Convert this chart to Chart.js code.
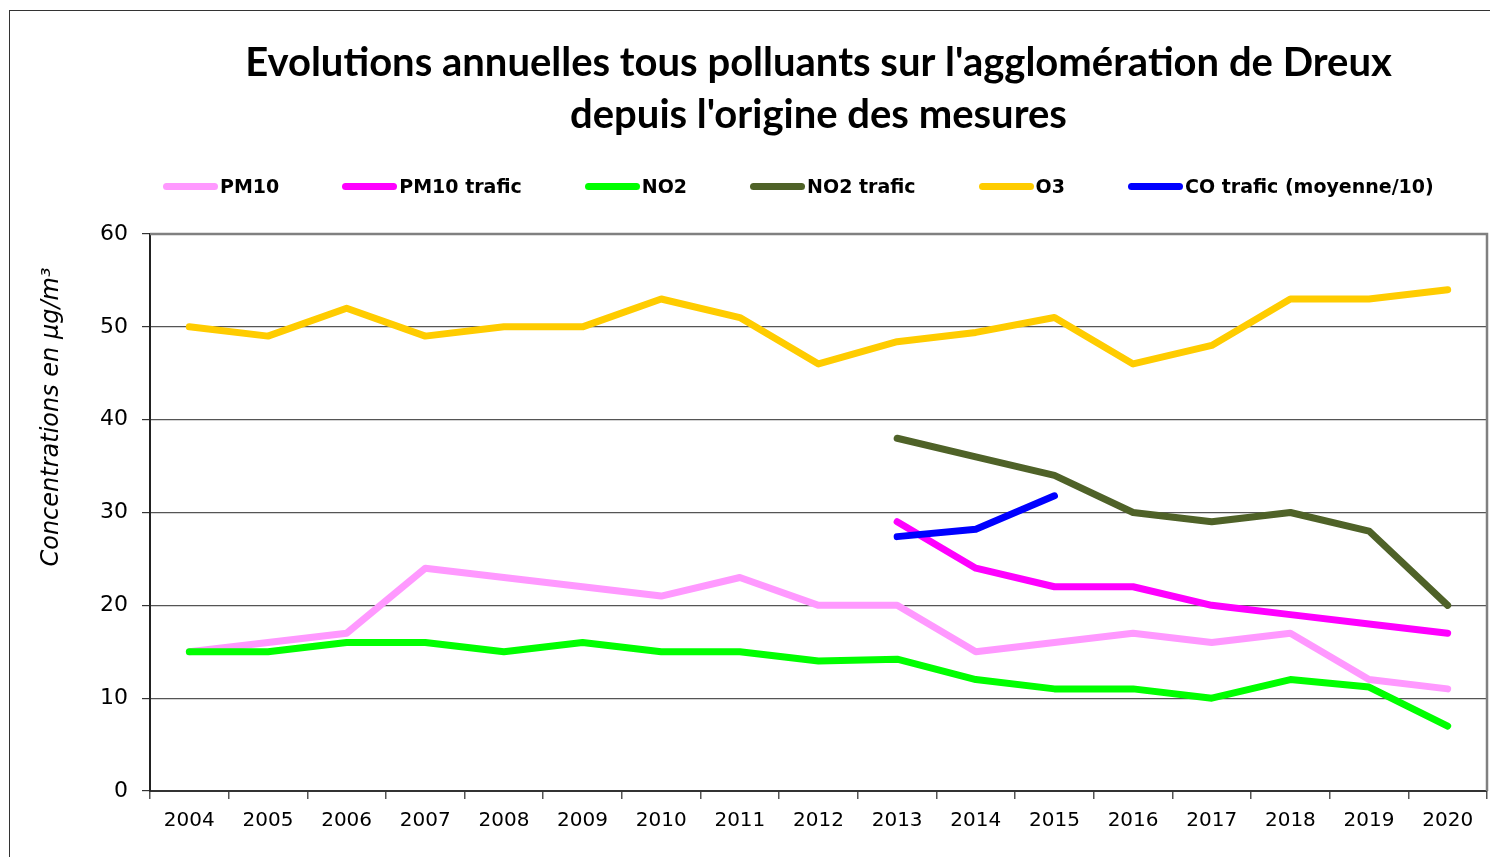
<!DOCTYPE html>
<html>
<head>
<meta charset="utf-8">
<script src="https://cdn.jsdelivr.net/npm/chart.js@4.4.1/dist/chart.umd.min.js"></script>
<style>
  html, body { margin: 0; padding: 0; background: #fff; overflow: hidden; }
  #wrap { position: relative; width: 1490px; height: 857px; }
  #frame { position: absolute; left: 9px; top: 10px; width: 1500px; height: 900px; border: 1.5px solid #333; box-sizing: border-box; pointer-events: none; }
  #c { position: absolute; left: 0; top: 0; }
  #legend { position: absolute; left: 163px; top: 176px; height: 20px; display: flex; align-items: center; gap: 63px;
            font-family: "DejaVu Sans", sans-serif; font-weight: bold; font-size: 19px; color: #000; white-space: nowrap; }
  .item { display: flex; align-items: center; gap: 2px; }
  .swatch { width: 55px; height: 7px; border-radius: 3.5px; display: inline-block; }
</style>
</head>
<body>
<div id="wrap">
  <canvas id="c" width="1490" height="857"></canvas>
  <div id="frame"></div>
  <div id="legend"></div>
</div>
<script>
// ---- data ----
const years = ['2004','2005','2006','2007','2008','2009','2010','2011','2012','2013','2014','2015','2016','2017','2018','2019','2020'];
const seriesNames = ['PM10', 'PM10 trafic', 'NO2', 'NO2 trafic', 'O3', 'CO trafic (moyenne/10)'];
const pm10       = [15, 16, 17, 24, 23, 22, 21, 23, 20, 20, 15, 16, 17, 16, 17, 12, 11];
const pm10Trafic = [null, null, null, null, null, null, null, null, null, 29, 24, 22, 22, 20, 19, 18, 17];
const no2        = [15, 15, 16, 16, 15, 16, 15, 15, 14, 14.2, 12, 11, 11, 10, 12, 11.2, 7];
const no2Trafic  = [null, null, null, null, null, null, null, null, null, 38, 36, 34, 30, 29, 30, 28, 20];
const o3         = [50, 49, 52, 49, 50, 50, 53, 51, 46, 48.4, 49.4, 51, 46, 48, 53, 53, 54];
const coTrafic   = [null, null, null, null, null, null, null, null, null, 27.4, 28.2, 31.8, null, null, null, null, null];
const yTicks = [0, 10, 20, 30, 40, 50, 60];
const titleLines = ["Evolutions annuelles tous polluants sur l'agglomération de Dreux", "depuis l'origine des mesures"];
const yTitle = 'Concentrations en μg/m³';

// ---- styles ----
const colors = ['#FF99FF', '#FF00FF', '#00FF00', '#4F6228', '#FFCC00', '#0000FF'];
const values = [pm10, pm10Trafic, no2, no2Trafic, o3, coTrafic];

const datasets = values.map((v, i) => ({
  label: seriesNames[i],
  data: v,
  borderColor: colors[i],
  backgroundColor: colors[i],
  borderWidth: 7,
  pointRadius: 0,
  pointHoverRadius: 0,
  tension: 0,
  fill: false,
  spanGaps: false,
  borderCapStyle: 'round',
  borderJoinStyle: 'round',
  order: values.length - i
}));

const frameBorder = {
  id: 'frameBorder',
  beforeDatasetsDraw(chart) {
    const {ctx, chartArea: a} = chart;
    ctx.save();
    ctx.strokeStyle = '#808080';
    ctx.lineWidth = 2.5;
    ctx.beginPath();
    ctx.moveTo(a.left, a.top);
    ctx.lineTo(a.right, a.top);
    ctx.lineTo(a.right, a.bottom);
    ctx.stroke();
    ctx.restore();
  }
};

const yTitlePlugin = {
  id: 'yTitlePlugin',
  afterDraw(chart) {
    const {ctx} = chart;
    ctx.save();
    ctx.translate(52, 417);
    ctx.rotate(-Math.PI / 2);
    ctx.font = 'italic 24px "DejaVu Sans", sans-serif';
    ctx.fillStyle = '#000';
    ctx.textAlign = 'center';
    ctx.textBaseline = 'middle';
    ctx.fillText(yTitle, 0, 0);
    ctx.restore();
  }
};

const chart = new Chart(document.getElementById('c'), {
  type: 'line',
  data: { labels: years, datasets },
  plugins: [frameBorder, yTitlePlugin],
  options: {
    responsive: false,
    devicePixelRatio: 1,
    animation: false,
    layout: { padding: { left: 0, right: 3, top: 0, bottom: 0 } },
    plugins: {
      legend: { display: false },
      tooltip: { enabled: false },
      title: {
        display: true,
        text: titleLines,
        fullSize: false,
        color: '#000',
        font: { family: 'Lato, "DejaVu Sans", sans-serif', size: 40, weight: 'bold', lineHeight: '52px' },
        padding: { top: 37, bottom: 93 }
      }
    },
    scales: {
      x: {
        type: 'category',
        offset: true,
        grid: { offset: true, drawOnChartArea: false, drawTicks: true, tickLength: 8, color: '#555', lineWidth: 1.5 },
        border: { color: '#333', width: 2 },
        ticks: { color: '#000', font: { family: '"DejaVu Sans", sans-serif', size: 20 }, padding: 10, maxRotation: 0, autoSkip: false },
        afterFit: s => { s.height = 66; }
      },
      y: {
        min: 0,
        max: 60,
        afterBuildTicks: s => { s.ticks = yTicks.map(v => ({ value: v })); },
        grid: { color: '#555', lineWidth: 1.2, tickLength: 8, tickColor: '#333' },
        border: { color: '#222', width: 2 },
        ticks: { color: '#000', font: { family: '"DejaVu Sans", sans-serif', size: 22 }, padding: 14 },
        afterFit: s => { s.width = 150; }
      }
    }
  }
});

// HTML legend built from datasets
const legendEl = document.getElementById('legend');
chart.data.datasets.forEach(ds => {
  const item = document.createElement('div');
  item.className = 'item';
  const sw = document.createElement('span');
  sw.className = 'swatch';
  sw.style.background = ds.borderColor;
  const tx = document.createElement('span');
  tx.textContent = ds.label;
  item.appendChild(sw);
  item.appendChild(tx);
  legendEl.appendChild(item);
});
</script>
</body>
</html>
